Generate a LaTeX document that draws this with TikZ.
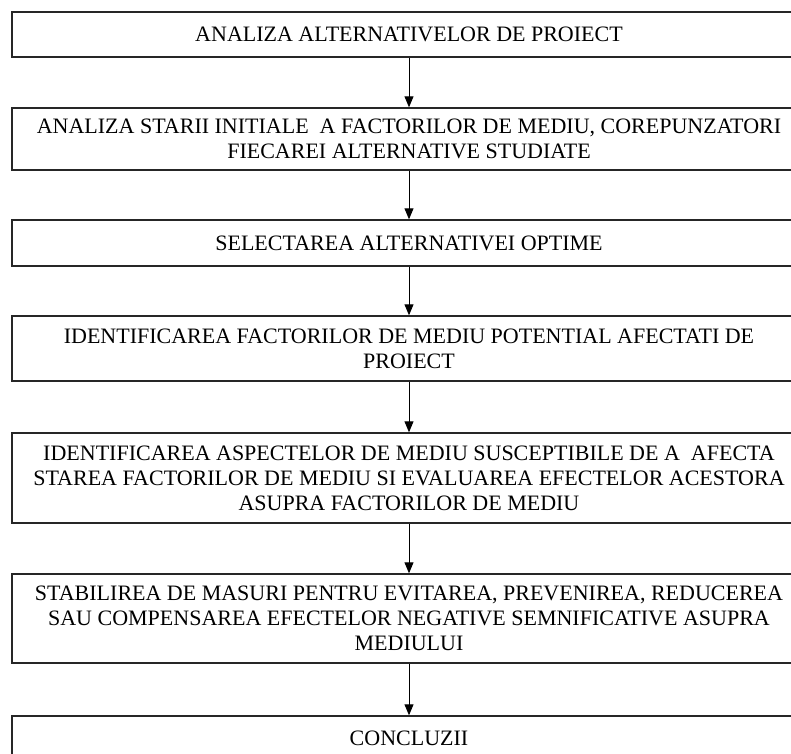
\documentclass[tikz,border=0pt]{standalone}
\usepackage{fontspec}
\setmainfont{Liberation Serif}
\usetikzlibrary{arrows.meta}

\begin{document}
\begin{tikzpicture}[x=1pt, y=-1pt,
    box/.style={draw=black!85, line width=1.4pt, minimum width=794pt,
                align=center, inner sep=0pt,
                font=\fontsize{22}{25}\selectfont},
    arr/.style={-{Triangle[length=11pt,width=9pt]}, line width=0.9pt}
  ]
  \useasboundingbox (0,0) rectangle (791,753);
  % Steps of the study
  \node[box, minimum height=45pt] (alt) at (409,34.5)
    {ANALIZA ALTERNATIVELOR DE PROIECT};
  \node[box, minimum height=62pt] (ini) at (409,139)
    {ANALIZA STARII INITIALE\ \ A FACTORILOR DE MEDIU, COREPUNZATORI\\
     FIECAREI ALTERNATIVE STUDIATE};
  \node[box, minimum height=46pt] (sel) at (409,243)
    {SELECTAREA ALTERNATIVEI OPTIME};
  \node[box, minimum height=65pt] (fac) at (409,348.5)
    {IDENTIFICAREA FACTORILOR DE MEDIU POTENTIAL AFECTATI DE\\
     PROIECT};
  \node[box, minimum height=90pt] (asp) at (409,478)
    {IDENTIFICAREA ASPECTELOR DE MEDIU SUSCEPTIBILE DE A\ \ AFECTA\\
     STAREA FACTORILOR DE MEDIU SI EVALUAREA EFECTELOR ACESTORA\\
     ASUPRA FACTORILOR DE MEDIU};
  \node[box, minimum height=89pt] (mas) at (409,618.5)
    {STABILIREA DE MASURI PENTRU EVITAREA, PREVENIREA, REDUCEREA\\
     SAU COMPENSAREA EFECTELOR NEGATIVE SEMNIFICATIVE ASUPRA\\
     MEDIULUI};
  \node[box, minimum height=45pt] (con) at (409,738.5)
    {CONCLUZII};
  % Flow
  \draw[arr] (alt) -- (ini);
  \draw[arr] (ini) -- (sel);
  \draw[arr] (sel) -- (fac);
  \draw[arr] (fac) -- (asp);
  \draw[arr] (asp) -- (mas);
  \draw[arr] (mas) -- (con);
\end{tikzpicture}
\end{document}
